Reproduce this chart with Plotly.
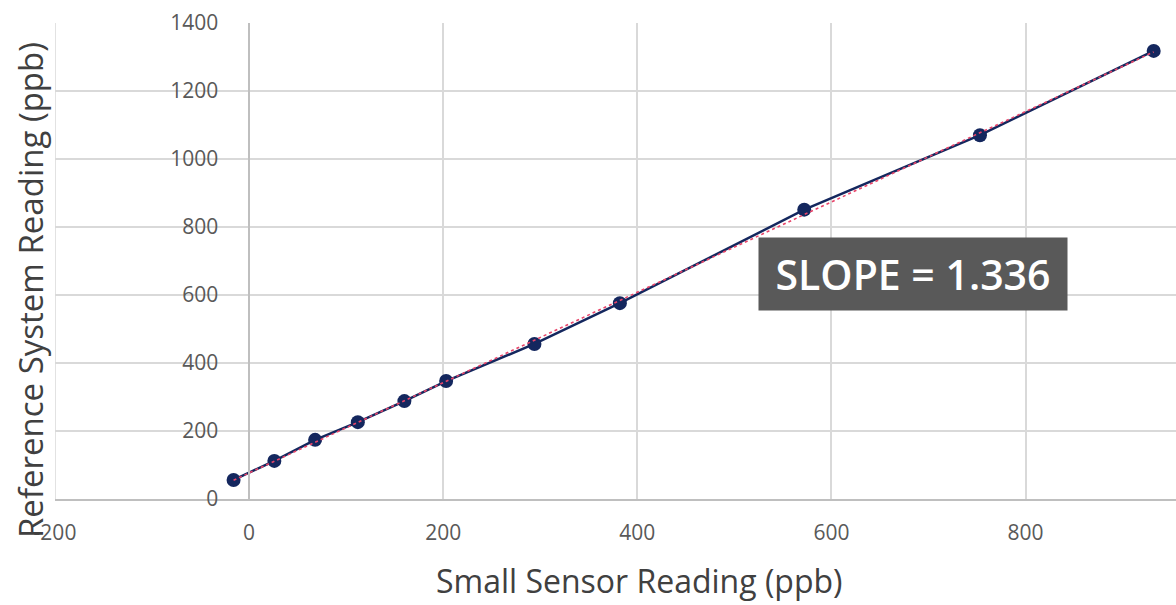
import numpy as np
import plotly.graph_objects as go

# Data
sensor_ppb = [-16, 26, 68, 112, 160, 203, 294, 382, 572, 753, 932]
reference_ppb = [56, 112, 174, 226, 288, 347, 456, 576, 851, 1070, 1318]

x_ticks = [-200, 0, 200, 400, 600, 800]
y_ticks = [0, 200, 400, 600, 800, 1000, 1200, 1400]
slope_label = "SLOPE = 1.336"

x_range = [-200, 955]
y_range = [0, 1400]

# linear trendline (least squares), drawn over the data range
coef = np.polyfit(sensor_ppb, reference_ppb, 1)
trend_x = [min(sensor_ppb), max(sensor_ppb)]
trend_y = [coef[0] * v + coef[1] for v in trend_x]

navy = "#14275E"
grid = "#D9D9D9"
fig = go.Figure()
fig.add_trace(go.Scatter(
    x=sensor_ppb, y=reference_ppb, mode="lines+markers",
    line=dict(color=navy, width=2.5),
    marker=dict(color=navy, size=14),
    showlegend=False, hoverinfo="skip"))
fig.add_trace(go.Scatter(
    x=trend_x, y=trend_y, mode="lines",
    line=dict(color="#E8456A", width=1.6, dash="dot"),
    showlegend=False, hoverinfo="skip"))

ypos = (0 - x_range[0]) / (x_range[1] - x_range[0])

fig.update_layout(
    width=1176, height=605,
    margin=dict(l=55, r=0, t=23, b=106),
    paper_bgcolor="white", plot_bgcolor="white",
    font=dict(family="Open Sans, sans-serif", color="#595959"),
    xaxis=dict(
        range=x_range, tickvals=x_ticks, ticktext=[str(v) for v in x_ticks],
        showgrid=True, gridcolor=grid, gridwidth=1.5,
        zeroline=False, showline=True, linecolor="#BFBFBF", linewidth=1.5,
        ticks="outside", ticklen=14, tickcolor="rgba(0,0,0,0)",
        tickfont=dict(size=21, color="#595959"),
    ),
    yaxis=dict(
        range=y_range, tickvals=y_ticks,
        showgrid=True, gridcolor=grid, gridwidth=1.5,
        zeroline=False, showline=True, linecolor="#BFBFBF", linewidth=1.5,
        anchor="free", position=ypos,
        ticks="outside", ticklen=26, tickcolor="rgba(0,0,0,0)",
        tickfont=dict(size=21, color="#595959"),
    ),
    shapes=[
        dict(type="line", xref="x", yref="paper", x0=x_ticks[0], x1=x_ticks[0],
             y0=0, y1=1, line=dict(color=grid, width=1.5), layer="below"),
    ],
    annotations=[
        dict(text="Small Sensor Reading (ppb)", xref="paper", yref="paper",
             x=(639 - 55) / (1176 - 55), y=-81 / 476, xanchor="center", yanchor="middle",
             showarrow=False, font=dict(size=32, color="#404040")),
        dict(text="Reference System Reading (ppb)", xref="paper", yref="paper",
             x=-25 / (1176 - 55), y=(499 - 290) / 476, xanchor="center", yanchor="middle",
             textangle=-90, showarrow=False, font=dict(size=33, color="#404040")),
        dict(text=slope_label, xref="paper", yref="paper",
             x=(913 - 55) / (1176 - 55), y=(499 - 274) / 476,
             xanchor="center", yanchor="middle", showarrow=False,
             bgcolor="#595959", borderpad=8, width=292,
             font=dict(size=41, color="white", family="Open Sans, sans-serif", weight=600)),
    ],
)

fig.write_html("out.html")
